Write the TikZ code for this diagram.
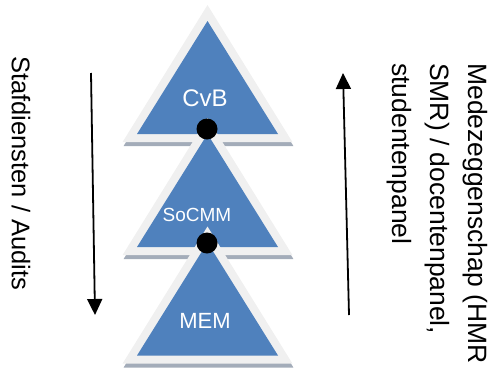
\documentclass[tikz,border=0pt]{standalone}
\usepackage{fontspec}
\setmainfont{Liberation Sans}
\usetikzlibrary{arrows.meta}
\definecolor{triblue}{HTML}{4F81BD}
\definecolor{triborder}{HTML}{F0F0F0}
\definecolor{trishadow}{HTML}{A3ACB9}
\tikzset{
  pyramid/.pic={
    \fill[trishadow] (1,-12) -- (85.9,125) -- (-83.9,125) -- cycle;
    \fill[triborder] (0,-16) -- (84.9,121) -- (-84.9,121) -- cycle;
    \fill[triblue] (0,0) -- (70.5,113) -- (-70.5,113) -- cycle;
  },
  trilabel/.style={text=white, inner sep=0pt},
  sidetext/.style={text=black, inner sep=0pt, anchor=base west, rotate=-90},
  joint/.style={circle, fill=black, inner sep=0pt, minimum size=21pt},
  flow/.style={line width=1.8pt, -{Triangle[length=16pt,width=15pt]}}
}
\begin{document}
\begin{tikzpicture}[x=1pt,y=-1pt]
\useasboundingbox (0,0) rectangle (489,367);
% pyramids
\pic at (207.5,21) {pyramid};
\pic at (207.5,134) {pyramid};
\pic at (207.5,242.5) {pyramid};
% labels
\node[trilabel, font=\fontsize{24}{28}\selectfont] (cvb) at (205,98.5) {CvB};
\node[trilabel, font=\fontsize{19}{23}\selectfont] (socmm) at (197,215) {SoCMM};
\node[trilabel, font=\fontsize{22}{26}\selectfont] (mem) at (205,321) {MEM};
% joints
\node[joint] (j1) at (207,129) {};
\node[joint] (j2) at (207,243) {};
% side texts
\node[sidetext, font=\fontsize{25.5}{30}\selectfont] (staf) at (12,56) {Stafdiensten / Audits};
\node[sidetext, font=\fontsize{26.5}{30}\selectfont] (mz1) at (468,63) {Medezeggenschap (HMR};
\node[sidetext, font=\fontsize{26.5}{30}\selectfont] (mz2) at (430,63) {SMR) / docentenpanel,};
\node[sidetext, font=\fontsize{26.5}{30}\selectfont] (mz3) at (392,63) {studentenpanel};
% arrows
\coordinate (downS) at (91,73);
\coordinate (downE) at (95,315);
\coordinate (upS) at (349,315);
\coordinate (upE) at (343,73);
\draw[flow] (downS) -- (downE);
\draw[flow] (upS) -- (upE);
\end{tikzpicture}
\end{document}
